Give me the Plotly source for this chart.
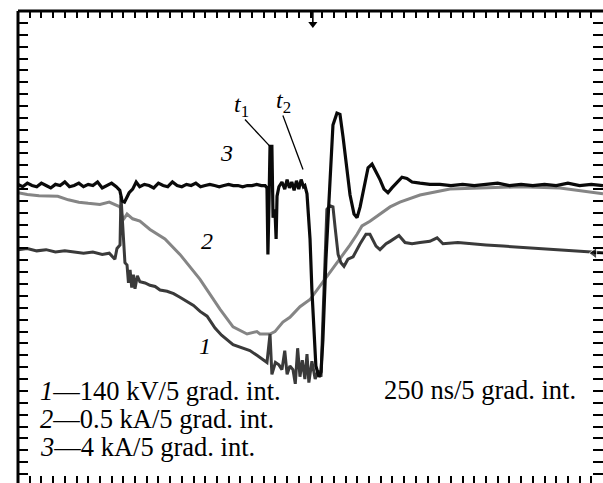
import plotly.graph_objects as go

# ---- data: time in ns (250 ns per 5 graduation intervals), signal in graduation intervals ----
t3 = [0, 20, 40, 60, 80, 100, 120, 140, 160, 180, 200, 220, 240, 260, 280, 300, 320, 340, 360, 380,
      400, 420, 435, 445, 455, 465, 475, 490, 505, 520, 540, 560, 580, 600, 620, 640, 660, 680, 700, 720,
      740, 760, 780, 800, 820, 840, 860, 880, 900, 920, 940, 960, 980, 1000, 1020, 1040, 1056, 1064, 1068, 1073,
      1077, 1085, 1090, 1098, 1103, 1107, 1115, 1128, 1140, 1150, 1160, 1170, 1180, 1190, 1200, 1210, 1220, 1226,
      1235, 1248, 1256, 1273, 1286, 1295, 1303, 1316, 1329, 1346, 1363, 1376, 1389, 1406, 1419, 1436, 1449, 1462,
      1479, 1496, 1513, 1530, 1547, 1564, 1581, 1598, 1620, 1641, 1662, 1684, 1718, 1760, 1803, 1850, 1900, 1950,
      2000, 2050, 2100, 2150, 2200, 2250, 2300, 2350, 2400, 2450, 2500]
y3 = [5.4, 5.2, 5.5, 5.3, 5.2, 5.5, 5.3, 5.1, 5.4, 5.3, 5.6, 5.2, 5.3, 5.5, 5.2, 5.4, 5.3, 5.6, 5.1, 5.3,
      5.5, 5.2, 4.9, 4.0, 3.9, 4.3, 4.7, 5.0, 5.6, 5.2, 5.4, 5.3, 5.1, 5.5, 5.3, 5.2, 5.6, 5.3, 5.2, 5.4,
      5.3, 5.5, 5.2, 5.3, 5.4, 5.3, 5.2, 5.3, 5.4, 5.3, 5.3, 5.2, 5.3, 5.3, 5.4, 5.3, 5.3, 5.1, -0.5, 4.2,
      8.6, 8.6, 2.6, 3.3, 0.8, 4.4, 5.2, 5.6, 5.0, 5.8, 5.1, 5.6, 4.9, 5.7, 5.0, 5.8, 5.2, 5.3,
      4.6, 0.8, -3.5, -9.9, -10.8, -10.4, -7.7, -0.9, 4.1, 10.4, 11.4, 11.3, 9.4, 6.8, 4.5, 2.9, 2.6, 3.5,
      5.3, 6.8, 7.1, 6.5, 5.8, 5.0, 4.7, 5.1, 5.6, 6.0, 5.9, 5.6, 5.5, 5.4, 5.4, 5.3, 5.4, 5.3,
      5.4, 5.5, 5.3, 5.4, 5.3, 5.4, 5.3, 5.5, 5.3, 5.4, 5.3]

t2 = [0, 40, 90, 170, 215, 260, 300, 350, 390, 414, 436, 449, 466, 490, 521, 564, 628, 692, 778, 863,
      919, 979, 1021, 1034, 1077, 1098, 1132, 1162, 1205, 1248, 1278, 1346, 1419, 1449, 1470, 1504, 1590,
      1632, 1718, 1846, 1974, 2145, 2316, 2479, 2500]
y2 = [4.7, 4.55, 4.45, 4.4, 4.1, 3.9, 3.8, 3.7, 3.9, 3.7, 3.5, 2.4, 2.9, 2.5, 2.3, 1.6, 0.8, -0.5, -2.6, -5.1,
      -6.6, -7.2, -7.0, -7.2, -7.2, -7.0, -6.2, -5.8, -4.9, -4.3, -3.5, -1.6, 0.3, 1.2, 1.9, 2.3, 3.5,
      3.9, 4.5, 5.0, 5.1, 5.2, 5.1, 4.7, 4.6]

t1 = [0, 40, 80, 120, 160, 200, 240, 280, 320, 360, 390, 414, 423, 436, 440, 449, 457, 466, 472, 479,
      486, 493, 500, 510, 521, 543, 564, 586, 607, 637, 665, 692, 722, 750, 778, 808, 842, 870, 919, 950,
      991, 1021, 1050, 1064, 1077, 1085, 1100, 1115, 1128, 1140, 1150, 1162, 1175, 1185, 1195, 1205, 1215,
      1226, 1235, 1243, 1256, 1270, 1282, 1295, 1303, 1312, 1320, 1333, 1346, 1355, 1368, 1380, 1393, 1410,
      1432, 1462, 1487, 1504, 1530, 1547, 1573, 1590, 1628, 1654, 1684, 1718, 1760, 1791, 1816, 1880, 1932,
      2000, 2073, 2150, 2273, 2350, 2420, 2500]
y1 = [-0.1, 0.0, -0.2, -0.1, -0.3, -0.2, -0.3, -0.4, -0.3, -0.5, -0.4, -0.9, 0.0, 0.3, 4.4, 1.0, -1.2, -1.4, -2.9, -1.8,
      -3.3, -2.2, -3.4, -2.3, -2.8, -2.9, -3.1, -3.2, -3.5, -3.6, -3.8, -4.1, -4.5, -4.8, -5.3, -5.7, -6.7, -7.3, -8.1, -8.3,
      -8.6, -9.0, -9.4, -9.6, -7.2, -10.6, -9.6, -9.8, -10.2, -8.6, -10.6, -9.9, -10.2, -11.4, -8.4, -10.8, -9.4,
      -11.0, -8.9, -11.3, -9.5, -11.0, -10.3, -10.8, -6.0, 0.0, 3.3, 3.6, 3.5, 1.8, -0.5, -1.2, -1.5, -0.9,
      -0.7, 0.4, 1.2, 1.2, 0.2, -0.1, 0.4, 0.6, 1.1, 0.5, 0.4, 0.5, 0.6, 0.9, 0.4, 0.5, 0.4,
      0.3, 0.2, 0.1, -0.1, -0.2, -0.3, -0.35]

ground_levels = {"1": -0.1, "2": 4.7, "3": 5.3}
trigger_time = 1260
right_marker_level = -0.4

legend_lines = ["<i>1</i>—140 kV/5 grad. int.",
                "<i>2</i>—0.5 kA/5 grad. int.",
                "<i>3</i>—4 kA/5 grad. int."]
time_scale = "250 ns/5 grad. int."

FONT = "Liberation Serif, Times New Roman, serif"
COL = {"1": "#3a3a3a", "2": "#858585", "3": "#0a0a0a"}

fig = go.Figure()
fig.add_trace(go.Scatter(x=t2, y=y2, mode="lines", line=dict(color=COL["2"], width=3), hoverinfo="skip"))
fig.add_trace(go.Scatter(x=t1, y=y1, mode="lines", line=dict(color=COL["1"], width=3), hoverinfo="skip"))
fig.add_trace(go.Scatter(x=t3, y=y3, mode="lines", line=dict(color=COL["3"], width=3.2), hoverinfo="skip"))

# channel ground markers at the left edge
for k, lvl in ground_levels.items():
    fig.add_trace(go.Scatter(x=[-55, -28, 0], y=[lvl, lvl, lvl], mode="lines+markers",
                             line=dict(color=COL[k], width=3),
                             marker=dict(symbol="line-ns", size=[0, 9, 0], line=dict(width=2, color=COL[k])),
                             cliponaxis=False, hoverinfo="skip"))

# trigger marker (top) and reference marker (right)
fig.add_trace(go.Scatter(x=[trigger_time], y=[18.9], mode="markers",
                         marker=dict(symbol="triangle-down", size=8, color="black"),
                         cliponaxis=False, hoverinfo="skip"))
fig.add_trace(go.Scatter(x=[2462, 2500], y=[right_marker_level, right_marker_level], mode="lines+markers",
                         line=dict(color="black", width=1.8),
                         marker=dict(symbol="triangle-left", size=[10, 0], color="black"),
                         cliponaxis=False, hoverinfo="skip"))

fig.update_layout(
    width=603, height=483,
    margin=dict(l=18, r=0, t=11, b=0),
    paper_bgcolor="white", plot_bgcolor="white",
    showlegend=False,
    xaxis=dict(range=[0, 2500], tick0=0, dtick=50, ticks="inside", ticklen=7, tickwidth=2,
               tickcolor="black", mirror="allticks", showline=False, showgrid=False, zeroline=False,
               showticklabels=False, fixedrange=True),
    yaxis=dict(range=[-19.75, 20], tick0=0, dtick=1, ticks="inside", ticklen=10, tickwidth=2,
               tickcolor="black", mirror="allticks", showline=False, showgrid=False, zeroline=False,
               showticklabels=False, fixedrange=True),
    shapes=[
        dict(type="line", xref="paper", yref="paper", x0=0, x1=1, y0=1, y1=1,
             line=dict(color="black", width=3)),
        dict(type="line", xref="paper", yref="paper", x0=0, x1=0, y0=0, y1=1,
             line=dict(color="black", width=3)),
        dict(type="line", xref="x", yref="paper", x0=trigger_time, x1=trigger_time, y0=1, y1=0.972,
             line=dict(color="black", width=1.6)),
        # leaders for t1 and t2
        dict(type="line", xref="x", yref="y", x0=970, y0=10.86, x1=1077, y1=8.6,
             line=dict(color="black", width=1.3)),
        dict(type="line", xref="x", yref="y", x0=1132, y0=11.2, x1=1218, y1=6.65,
             line=dict(color="black", width=1.3)),
    ],
)

ann = []
for txt, x, y in [("3", 889, 8.0), ("2", 808, 0.6), ("1", 799, -8.2)]:
    ann.append(dict(x=x, y=y, xref="x", yref="y", text=f"<i>{txt}</i>", showarrow=False,
                    font=dict(family=FONT, size=24, color="black")))
ann.append(dict(x=953, y=12.0, xref="x", yref="y", text="<i>t</i><sub>1</sub>", showarrow=False,
                font=dict(family=FONT, size=24, color="black")))
ann.append(dict(x=1134, y=12.35, xref="x", yref="y", text="<i>t</i><sub>2</sub>", showarrow=False,
                font=dict(family=FONT, size=24, color="black")))
for line, yp in zip(legend_lines, [0.195, 0.136, 0.077]):
    ann.append(dict(x=0.034, y=yp, xref="paper", yref="paper", xanchor="left", yanchor="middle",
                    text=line, showarrow=False, font=dict(family=FONT, size=26.5, color="black")))
ann.append(dict(x=0.957, y=0.197, xref="paper", yref="paper", xanchor="right", yanchor="middle",
                text=time_scale, showarrow=False, font=dict(family=FONT, size=26.5, color="black")))
fig.update_layout(annotations=ann)

fig.write_html("out.html", config={"displayModeBar": False},
               post_script="document.body.style.margin='0';document.body.style.padding='0';document.body.style.overflow='hidden';")
